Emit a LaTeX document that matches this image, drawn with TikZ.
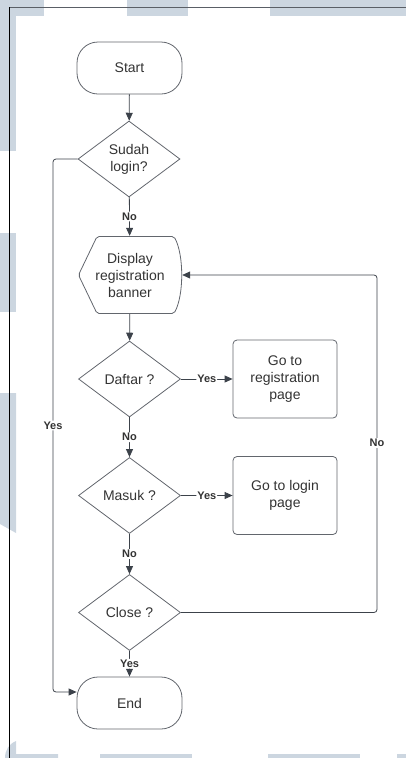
\documentclass[tikz,border=0pt]{standalone}
\usepackage{fontspec}
\setmainfont{Liberation Sans}
\usetikzlibrary{shapes.geometric, arrows.meta, calc}
\definecolor{wm}{HTML}{CCD6E0}
\definecolor{shapeline}{HTML}{62666D}
\definecolor{conn}{HTML}{3C424A}
\definecolor{txt}{HTML}{333333}
\definecolor{frametop}{HTML}{5A5F66}

\begin{document}
\begin{tikzpicture}[x=1pt,y=-1pt,
  every node/.style={font=\fontsize{14}{17}\selectfont, text=txt},
  terminal/.style={draw=shapeline, line width=0.8pt, rounded corners=21pt,
    minimum width=105pt, minimum height=52pt, inner sep=0pt},
  decision/.style={draw=shapeline, line width=0.8pt, diamond, shape aspect=1.34,
    minimum width=102pt, minimum height=76pt, inner sep=0pt, align=center},
  process/.style={draw=shapeline, line width=0.8pt, rounded corners=4pt,
    minimum width=104pt, minimum height=78pt, inner sep=0pt, align=center},
  flow/.style={draw=conn, line width=0.8pt, rounded corners=3pt,
    -{Triangle[length=8pt,width=7pt]}},
  lbl/.style={font=\bfseries\fontsize{11}{13}\selectfont, fill=white,
    inner sep=1pt, text=txt}
]
\useasboundingbox (0,0) rectangle (406,758);

% light background blocks
\fill[wm] (0,0) rectangle (44,16);
\fill[wm] (0,0) rectangle (16,151);
\fill[wm] (127,0) rectangle (188,16);
\fill[wm] (270,0) rectangle (406,16);
\fill[wm] (0,233) rectangle (16,312);
\fill[wm] (0,393) -- (16,393) -- (16,533) -- (0,524) -- cycle;
\fill[wm] (16,741) -- (16,754) -- (58,754) -- (58,758) -- (5,758)
  .. controls (5,750) and (9,744) .. (16,741) -- cycle;
\fill[wm] (100,754) rectangle (192,758);
\fill[wm] (268,754) rectangle (360,758);
\fill[wm] (397,754) rectangle (406,758);

% frame
\draw[frametop, line width=1.4pt] (9,7.5) -- (406,7.5);
\draw[black, line width=1pt] (9.5,7) -- (9.5,758);

% nodes
\node[terminal] (start) at (129.5,68) {Start};
\node[decision] (sudah) at (129,159) {Sudah\\login?};
\node[minimum width=104pt, minimum height=78pt, inner sep=0pt, align=center]
  (disp) at (130,275) {Display\\registration\\banner};
\draw[shapeline, line width=0.8pt, rounded corners=2pt]
  (78.5,275) -- (97,236.5) -- (174,236.5)
  .. controls (184,255) and (184,295) .. (174,313.5)
  -- (97,313.5) -- cycle;
\node[decision] (daftar) at (129.5,379) {Daftar ?};
\node[process] (regpage) at (285,379) {Go to\\registration\\page};
\node[decision] (masuk) at (129.5,495.5) {Masuk ?};
\node[process] (loginpage) at (285,495.5) {Go to login\\page};
\node[decision] (close) at (129.5,612.5) {Close ?};
\node[terminal] (end) at (129.5,703) {End};

\coordinate (yesbend) at (53,692);
\coordinate (noloop) at (377,443);

% connectors
\draw[flow] (start) -- (sudah);
\draw[flow] (sudah) -- node[lbl]{No} (disp);
\draw[flow] (disp) -- (daftar);
\draw[flow] (daftar) -- node[lbl]{Yes} (regpage);
\draw[flow] (daftar) -- node[lbl]{No} (masuk);
\draw[flow] (masuk) -- node[lbl]{Yes} (loginpage);
\draw[flow] (masuk) -- node[lbl]{No} (close);
\draw[flow] (close) -- node[lbl]{Yes} (end);
\draw[flow] (sudah.west) -| node[lbl, pos=0.75]{Yes} (yesbend)
  -- ([yshift=11pt]end.west);
\draw[flow] (close.east) -| (noloop) |- (disp.east);
\node[lbl] at (noloop) {No};
\end{tikzpicture}
\end{document}
